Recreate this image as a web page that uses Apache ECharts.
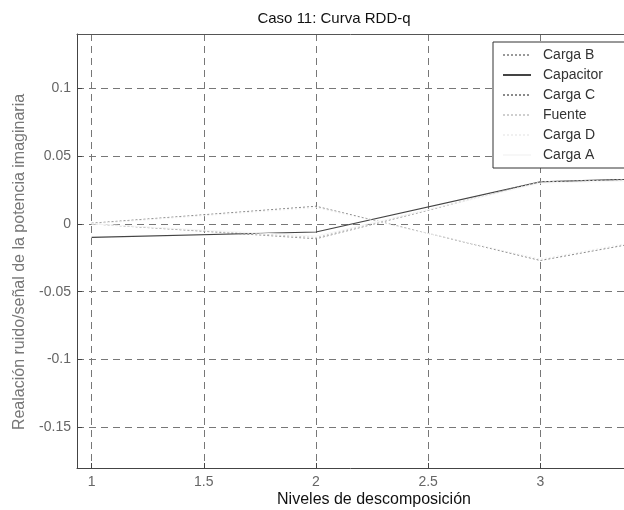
<!DOCTYPE html>
<html>
<head>
<meta charset="utf-8">
<script src="https://cdn.jsdelivr.net/npm/echarts@6/dist/echarts.min.js"></script>
<style>
html,body{margin:0;padding:0;background:#fff;}
#chart{width:624px;height:510px;}
</style>
</head>
<body>
<div id="chart"></div>
<script>
// ---- data ----
const levels = [1, 2, 3, 4];
const cargaB    = [0.000, -0.011, 0.031, 0.035];
const capacitor = [-0.010, -0.006, 0.031, 0.036];
const cargaC    = [0.0005, 0.013, -0.027, 0.003];
const fuente    = [0.000, -0.010, 0.031, 0.035];
const cargaD    = [0.000, 0.012, -0.026, 0.004];
const cargaA    = [0.000, -0.009, 0.030, 0.034];
const xTicks = [1, 1.5, 2, 2.5, 3];
const yTicks = [-0.15, -0.1, -0.05, 0, 0.05, 0.1];
const titleText = 'Caso 11: Curva RDD-q';
const xName = 'Niveles de descomposición';
const yName = 'Realación ruido/señal de la potencia imaginaria';

const pairs = arr => levels.map((x, i) => [x, arr[i]]);
const FONT = 'Liberation Sans, Arial, sans-serif';
const X_MIN = 0.935, X_MAX = 3.373;

function mk(name, data, color, type, width) {
  return {
    name, type: 'line', data: pairs(data), symbol: 'none', showSymbol: false,
    lineStyle: { color, type, width }, itemStyle: { color },
    emphasis: { disabled: true }, animation: false, clip: true
  };
}

const chart = echarts.init(document.getElementById('chart'), null, { renderer: 'canvas' });
chart.setOption({
  backgroundColor: '#fff',
  animation: false,
  grid: { left: 77, top: 34, right: 0, bottom: 42, containLabel: false },
  xAxis: [{
    type: 'value', min: X_MIN, max: X_MAX, position: 'bottom',
    axisLine: { show: true, onZero: false, lineStyle: { color: '#444', width: 1 } },
    axisTick: { show: true, inside: true, length: 5, customValues: xTicks, lineStyle: { color: '#444' } },
    axisLabel: { customValues: xTicks, color: '#666', fontSize: 14, fontFamily: FONT, margin: 7 },
    splitLine: { show: true, lineStyle: { color: '#777', type: [7, 5], width: 1 } }
  }, {
    type: 'value', min: X_MIN, max: X_MAX, position: 'top',
    axisLine: { show: true, onZero: false, lineStyle: { color: '#555', width: 1 } },
    axisTick: { show: false }, axisLabel: { show: false }, splitLine: { show: false }
  }],
  yAxis: {
    type: 'value', min: -0.18, max: 0.14,
    axisLine: { show: true, onZero: false, lineStyle: { color: '#444', width: 1 } },
    axisTick: { show: true, inside: true, length: 5, customValues: yTicks, lineStyle: { color: '#444' } },
    axisLabel: { customValues: yTicks, color: '#666', fontSize: 14, fontFamily: FONT, margin: 6 },
    splitLine: { show: true, lineStyle: { color: '#777', type: [7, 5], width: 1 } }
  },
  legend: {
    orient: 'vertical', left: 493, top: 42,
    itemWidth: 28, itemHeight: 14, itemGap: 6.0,
    padding: [6, 90, 6, 9],
    backgroundColor: '#fff', borderColor: '#333', borderWidth: 1,
    itemStyle: { opacity: 0 },
    textStyle: { color: '#333', fontSize: 14, fontFamily: FONT, padding: [0, 0, 0, 7] },
    data: ['Carga B', 'Capacitor', 'Carga C', 'Fuente', 'Carga D', 'Carga A'],
    selectedMode: false
  },
  graphic: [
    { type: 'text', x: 334, y: 19, style: { text: titleText, fill: '#111', font: '15px ' + FONT, textAlign: 'center', textVerticalAlign: 'middle' } },
    { type: 'text', x: 374, y: 500, style: { text: xName, fill: '#111', font: '16px ' + FONT, textAlign: 'center', textVerticalAlign: 'middle' } },
    { type: 'text', x: 20, y: 262, rotation: Math.PI / 2, style: { text: yName, fill: '#777', font: '16px ' + FONT, textAlign: 'center', textVerticalAlign: 'middle' } }
  ],
  series: [
    mk('Carga B', cargaB, '#999', [2, 2], 1),
    mk('Capacitor', capacitor, '#444', 'solid', 1.2),
    mk('Carga C', cargaC, '#8a8a8a', [2, 2], 1),
    mk('Fuente', fuente, '#cfcfcf', [2, 2], 1),
    mk('Carga D', cargaD, '#f0f0f0', [2, 2], 1),
    mk('Carga A', cargaA, '#f7f7f7', 'solid', 1)
  ]
});
</script>
</body>
</html>
